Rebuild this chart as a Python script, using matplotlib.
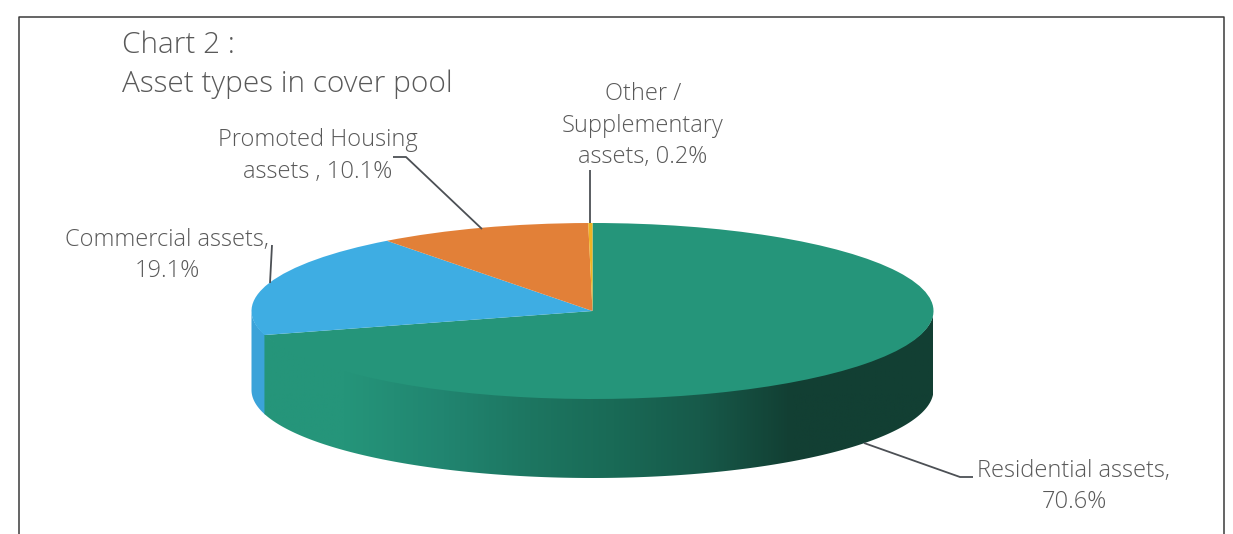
import numpy as np
import matplotlib
matplotlib.use('Agg')
import matplotlib.pyplot as plt
from matplotlib.colors import LinearSegmentedColormap
from matplotlib.patches import Polygon

plt.rcParams['font.family'] = ['Open Sans', 'DejaVu Sans']

# data
categories = ['Residential assets', 'Commercial assets', 'Promoted Housing assets', 'Other / Supplementary assets']
shares = [70.6, 19.1, 10.1, 0.2]
colors = ['#25957A', '#3EADE3', '#E28038', '#EFB422']
labels = ['Residential assets,\n70.6%', 'Commercial assets,\n19.1%',
          'Promoted Housing\nassets , 10.1%', 'Other /\nSupplementary\nassets, 0.2%']
title_lines = ['Chart 2 :', 'Asset types in cover pool']

W, H = 1233, 534
CX, CY, RX, RY, DEPTH = 592.5, 311, 341, 88, 79
TEXT = '#595959'
LINE = '#4C5055'


# picture pixels to data units
def px(x):
    return (np.asarray(x, dtype=float) - CX) / RX


def py(y):
    return (CY - np.asarray(y, dtype=float)) / RY


fig = plt.figure(figsize=(W / 100, H / 100), dpi=100)
ax = fig.add_axes([0, 0, 1, 1])

# angles clockwise from 12 o'clock
edges = np.radians(np.cumsum([0] + shares) / sum(shares) * 360)
depth = DEPTH / RY


def wall(a0, a1):
    t = np.linspace(a0, a1, 200)
    x, y = np.sin(t), np.cos(t)
    # top edge pulled in a little so it sits under the pie top, no seam
    return np.column_stack([np.r_[x, x[::-1]], np.r_[y * 0.97, y[::-1] - depth]])


# side wall only exists on the front half (90 to 270 deg clockwise from top)
wall_green = Polygon(wall(np.pi / 2, edges[1]), closed=True, fc='none', ec='none')
ax.add_patch(wall_green)
stops_x = [264, 343, 443, 530, 613, 700, 792, 933]
stops_c = ['#25957A', '#25957A', '#218570', '#1D7661', '#196A56', '#175A4A', '#123F33', '#123F33']
pos = [(s - stops_x[0]) / (stops_x[-1] - stops_x[0]) for s in stops_x]
cmap = LinearSegmentedColormap.from_list('wall', list(zip(pos, stops_c)))
grad = ax.imshow(np.linspace(0, 1, 512)[None, :], cmap=cmap, aspect='auto',
                 extent=[px(stops_x[0]), px(stops_x[-1]), -1 - depth, 0], zorder=1)
grad.set_clip_path(wall_green)
# blue runs slightly under the green so the join stays clean
ax.add_patch(Polygon(wall(edges[1] - 0.01, 3 * np.pi / 2), closed=True, fc='#3BA3D9', ec='none', zorder=0.9))

ax.pie(shares, colors=colors, startangle=90, counterclock=False, radius=1, center=(0, 0),
       frame=True, wedgeprops={'linewidth': 0, 'zorder': 2})

ax.set_aspect('auto')
ax.set_xlim(px(0), px(W))
ax.set_ylim(py(H), py(0))
ax.axis('off')

# leader lines
leaders = [([864, 960, 973], [443, 477, 477]),
           ([272, 270], [245, 283]),
           ([393, 406, 482], [157, 157, 229]),
           ([590, 590], [170, 223])]
for xs, ys in leaders:
    ax.plot(px(xs), py(ys), color=LINE, lw=1.3, solid_capstyle='butt', zorder=3)

# frame, open at the bottom
ax.plot(px([19, 19, 1224, 1224]), py([H, 17, 17, H]), color='#3A3A3A', lw=1.1, zorder=3, clip_on=False)

# labels
label_pos = [(1074, 486.5), (167, 255.5), (318, 156), (643, 125.5)]
for lab, (x, y) in zip(labels, label_pos):
    ax.text(px(x), py(y), lab, ha='center', va='center', ma='center', fontsize=17,
            fontweight=300, color=TEXT, linespacing=1.41, zorder=4)
for line, y in zip(title_lines, [45, 84]):
    ax.text(px(122), py(y), line, ha='left', va='center', fontsize=21.4,
            fontweight=300, color=TEXT, zorder=4)

fig.savefig('out.png', dpi=100)
